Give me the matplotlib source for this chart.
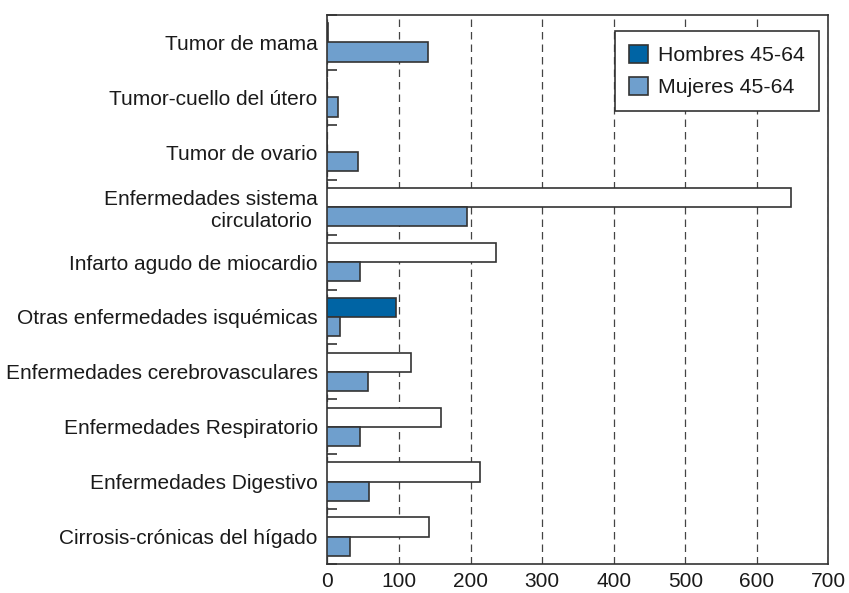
import matplotlib
matplotlib.use("Agg")
import matplotlib.pyplot as plt
import numpy as np
from matplotlib.patches import Patch

plt.rcParams['font.family'] = ['Liberation Sans', 'DejaVu Sans']

categories = [
    "Tumor de mama",
    "Tumor-cuello del útero",
    "Tumor de ovario",
    "Enfermedades sistema\ncirculatorio ",
    "Infarto agudo de miocardio",
    "Otras enfermedades isquémicas",
    "Enfermedades cerebrovasculares",
    "Enfermedades Respiratorio",
    "Enfermedades Digestivo",
    "Cirrosis-crónicas del hígado",
]
hombres = [1, 0, 0, 648, 236, 96, 117, 159, 213, 142]
mujeres = [141, 15, 43, 195, 45, 18, 57, 46, 58, 32]
# Hombres bars drawn white except the isquémicas one (as in the original)
hombres_fill = ['white', 'white', 'white', 'white', 'white', '#0064a4',
                'white', 'white', 'white', 'white']
xticks = [0, 100, 200, 300, 400, 500, 600, 700]

dark_blue = '#0064a4'
light_blue = '#6f9fcd'
edge = '#333333'

fig = plt.figure(figsize=(8.49, 5.93), dpi=100)
ax = fig.add_axes([0.3857, 0.0489, 0.9758 - 0.3857, 0.9747 - 0.0489])

y = np.arange(len(categories))
h = 0.35
ax.barh(y - h / 2, hombres, height=h, color=hombres_fill, edgecolor=edge,
        linewidth=1.2, zorder=3)
ax.barh(y + h / 2, mujeres, height=h, color=light_blue, edgecolor=edge,
        linewidth=1.2, zorder=3)

ax.set_xlim(0, 700)
ax.set_ylim(len(categories) - 0.5, -0.5)
ax.set_xticks(xticks)
ax.set_xticklabels([str(v) for v in xticks], fontsize=15)
ax.set_yticks(y)
ax.set_yticklabels(categories, fontsize=15, color='#1a1a1a')
ax.set_yticks(np.arange(len(categories) + 1) - 0.5, minor=True)
ax.tick_params(axis='y', which='major', length=0, pad=7)
ax.tick_params(axis='y', which='minor', direction='in', length=7.5,
               width=1.2, color=edge)
ax.tick_params(axis='x', which='major', length=0, pad=6, labelcolor='#1a1a1a')

for s in ax.spines.values():
    s.set_linewidth(1.2)
    s.set_color(edge)

ax.grid(axis='x', linestyle=(0, (6, 4)), color='#444444', linewidth=0.9,
        zorder=0)
ax.set_axisbelow(True)

handles = [Patch(facecolor=dark_blue, edgecolor=edge, linewidth=1.2),
           Patch(facecolor=light_blue, edgecolor=edge, linewidth=1.2)]
leg = fig.legend(handles, ["Hombres 45-64", "Mujeres 45-64"],
                 loc='upper right', bbox_to_anchor=(819 / 849, 1 - 31 / 593),
                 borderaxespad=0, fontsize=15.3, fancybox=False, framealpha=1,
                 edgecolor=edge, handlelength=0.9, handleheight=0.95,
                 handletextpad=0.5, labelspacing=0.55, borderpad=0.65)
leg.get_frame().set_linewidth(1.2)
for t in leg.get_texts():
    t.set_color('#1a1a1a')

fig.savefig("out.png", dpi=100)
